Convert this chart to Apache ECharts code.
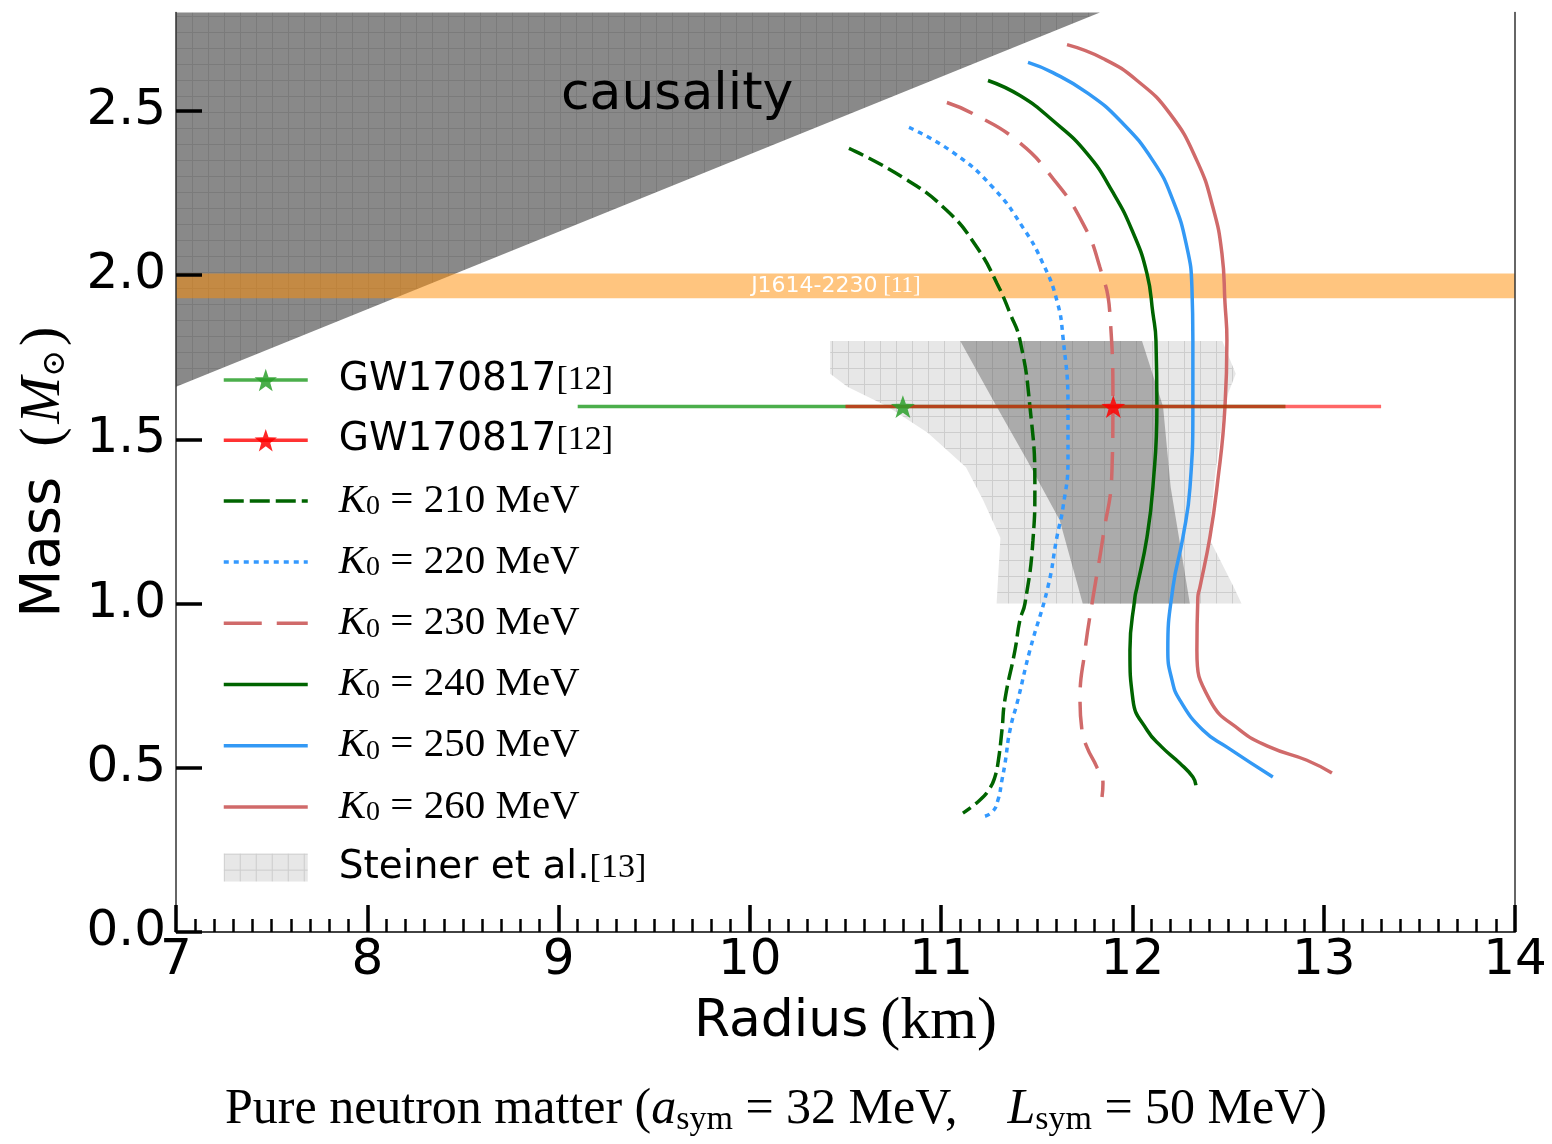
<!DOCTYPE html>
<html>
<head>
<meta charset="utf-8">
<script src="https://cdn.jsdelivr.net/npm/echarts@6/dist/echarts.min.js"></script>
<style>
  html, body { margin: 0; padding: 0; background: #fff; }
  #chart { width: 1552px; height: 1144px; }
</style>
</head>
<body>
<div id="chart"></div>
<script>
// Mass–radius relations of pure neutron matter for several incompressibilities K0

const massTicks = [0, 0.5, 1.0, 1.5, 2.0, 2.5];

// causality limit (upper-left region)
const causality = [[7, 1.66], [7, 2.8], [11.83, 2.8]];

// PSR J1614-2230 mass band
const j1614Band = [1.93, 2.005];

// Steiner et al. constraints
const steinerOuter = [
  [10.42, 1.80], [12.47, 1.80], [12.54, 1.70], [12.50, 1.64], [12.47, 1.56],
  [12.43, 1.38], [12.40, 1.20], [12.53, 1.05], [12.57, 1.00], [11.29, 1.00],
  [11.31, 1.20], [11.22, 1.315], [11.13, 1.415], [10.93, 1.52], [10.72, 1.60],
  [10.51, 1.66], [10.42, 1.70]
];
const steinerInner = [
  [11.10, 1.80], [12.05, 1.80], [12.16, 1.60], [12.20, 1.354], [12.30, 1.00],
  [11.74, 1.00], [11.62, 1.254], [11.45, 1.436], [11.29, 1.60]
];

// GW170817 radius estimates at M = 1.6 (low, central, high)
const gwGreenRadius = [9.1, 10.8, 12.8];
const gwRedRadius = [10.5, 11.9, 13.3];
const gwMass = 1.6;

// M–R curves [radius km, mass Msun]
const k210 = [
  [10.518, 2.386], [10.800, 2.298], [11.030, 2.197], [11.187, 2.085], [11.292, 1.975],
  [11.360, 1.884], [11.412, 1.802], [11.464, 1.601], [11.490, 1.355], [11.480, 1.193],
  [11.438, 1.000], [11.412, 0.950], [11.386, 0.858], [11.333, 0.706], [11.318, 0.615],
  [11.297, 0.514], [11.281, 0.472], [11.255, 0.438], [11.203, 0.402], [11.114, 0.362]
];
const k220 = [
  [10.832, 2.450], [11.062, 2.374], [11.271, 2.267], [11.428, 2.145], [11.532, 2.036],
  [11.605, 1.923], [11.637, 1.811], [11.663, 1.598], [11.663, 1.436], [11.637, 1.293],
  [11.605, 1.202], [11.558, 1.050], [11.464, 0.858], [11.401, 0.706], [11.360, 0.615],
  [11.334, 0.514], [11.318, 0.463], [11.297, 0.402], [11.266, 0.365], [11.213, 0.350]
];
const k230 = [
  [11.030, 2.526], [11.166, 2.492], [11.396, 2.410], [11.584, 2.295], [11.741, 2.158],
  [11.830, 2.024], [11.882, 1.884], [11.898, 1.601], [11.893, 1.406], [11.846, 1.202],
  [11.794, 1.019], [11.752, 0.858], [11.726, 0.706], [11.736, 0.615], [11.762, 0.563],
  [11.814, 0.502], [11.846, 0.453], [11.841, 0.411]
];
const k240 = [
  [11.245, 2.593], [11.412, 2.547], [11.584, 2.471], [11.762, 2.371], [11.898, 2.252],
  [12.003, 2.130], [12.076, 2.005], [12.107, 1.884], [12.123, 1.802], [12.128, 1.601],
  [12.107, 1.354], [12.076, 1.202], [12.024, 1.050], [12.013, 1.019], [11.987, 0.858],
  [12.003, 0.706], [12.076, 0.615], [12.154, 0.563], [12.248, 0.514], [12.316, 0.472],
  [12.332, 0.447]
];
const k250 = [
  [11.454, 2.648], [11.584, 2.617], [11.762, 2.556], [11.935, 2.471], [12.107, 2.349],
  [12.212, 2.228], [12.285, 2.085], [12.311, 1.963], [12.316, 1.802], [12.316, 1.601],
  [12.301, 1.354], [12.264, 1.202], [12.212, 1.050], [12.185, 0.858], [12.207, 0.767],
  [12.248, 0.706], [12.368, 0.615], [12.494, 0.563], [12.734, 0.472]
];
const k260 = [
  [11.658, 2.702], [11.846, 2.660], [12.024, 2.593], [12.196, 2.492], [12.337, 2.349],
  [12.421, 2.206], [12.468, 2.066], [12.484, 1.914], [12.494, 1.802], [12.484, 1.601],
  [12.442, 1.354], [12.405, 1.202], [12.353, 1.050], [12.342, 1.019], [12.337, 0.858],
  [12.405, 0.706], [12.562, 0.615], [12.719, 0.563], [12.912, 0.523], [13.043, 0.484]
];

const R_MIN = 7, R_MAX = 14, M_MIN = 0, M_MAX = 2.8;

// "+"-hatched fills
function hatch(bg, line, step) {
  const c = document.createElement('canvas');
  c.width = step; c.height = step;
  const g = c.getContext('2d');
  g.fillStyle = bg; g.fillRect(0, 0, step, step);
  g.fillStyle = line;
  g.fillRect(0, 0, 1, step);
  g.fillRect(0, 0, step, 1);
  return { image: c, repeat: 'repeat' };
}
const causalFill = hatch('#898989', '#7b7b7b', 16);
const steinerFill = hatch('#e7e7e7', '#cdcdcd', 16);
const steinerCoreFill = hatch('#ababab', '#9b9b9b', 16);

const STAR = 'path://M0,-10L2.35,-3.24L9.51,-3.09L3.8,1.24L5.88,8.09L0,4L-5.88,8.09L-3.8,1.24L-9.51,-3.09L-2.35,-3.24Z';

function polygonSeries(name, points, fill, z) {
  return {
    type: 'custom', name, coordinateSystem: 'cartesian2d', silent: true, z,
    data: [points[0]],
    itemStyle: { color: fill },
    renderItem: (params, api) => ({
      type: 'polygon',
      shape: { points: points.map(p => api.coord(p)) },
      style: { fill: fill, stroke: null }
    })
  };
}

function gwSeries(name, radii, color, opacity) {
  return {
    type: 'line', name, z: 8,
    data: [
      { value: [radii[0], gwMass], symbol: 'none' },
      { value: [radii[1], gwMass] },
      { value: [radii[2], gwMass], symbol: 'none' }
    ],
    symbol: STAR, symbolSize: 24, symbolKeepAspect: true,
    lineStyle: { color, width: 3.5, opacity },
    itemStyle: { color, opacity: 0.85 },
    emphasis: { disabled: true }
  };
}

function curve(name, data, color, type) {
  return {
    type: 'line', name, data, smooth: 0.5, symbol: 'none', z: 6,
    lineStyle: { color, width: 3.5, type, cap: 'butt' },
    itemStyle: { color },
    emphasis: { disabled: true }
  };
}

const bandPoly = [[R_MIN, j1614Band[0]], [R_MAX, j1614Band[0]], [R_MAX, j1614Band[1]], [R_MIN, j1614Band[1]]];

const legendText = {
  GWg: '{g|GW170817}{r|[12]}',
  GWr: '{g|GW170817}{r|[12]}',
  K210: '{k|K}{s|0}{e| = 210 MeV}',
  K220: '{k|K}{s|0}{e| = 220 MeV}',
  K230: '{k|K}{s|0}{e| = 230 MeV}',
  K240: '{k|K}{s|0}{e| = 240 MeV}',
  K250: '{k|K}{s|0}{e| = 250 MeV}',
  K260: '{k|K}{s|0}{e| = 260 MeV}',
  Steiner: '{g|Steiner et al.}{r|[13]}'
};

const SERIF = '"Liberation Serif", "DejaVu Serif", serif';
const SANS = '"DejaVu Sans", sans-serif';

const curveLegend = (name, dash) => {
  const item = { name, itemStyle: { opacity: 0 } };
  if (dash) item.lineStyle = { type: dash };
  return item;
};

const option = {
  animation: false,
  backgroundColor: '#fff',
  title: {
    text: 'Pure neutron matter ({i|a}{s|sym} = 32 MeV,    {i|L}{s|sym} = 50 MeV)',
    left: 'center', top: 1078,
    textStyle: {
      fontFamily: SERIF, fontSize: 50, fontWeight: 'normal', color: '#000', lineHeight: 54,
      rich: {
        i: { fontFamily: SERIF, fontSize: 50, fontStyle: 'italic', color: '#000', lineHeight: 54 },
        s: { fontFamily: SERIF, fontSize: 34, color: '#000', verticalAlign: 'bottom', lineHeight: 18 }
      }
    }
  },
  grid: { left: 176, right: 37, top: 12.5, bottom: 212, show: false },
  legend: {
    orient: 'vertical', left: 222, top: 360, padding: 0,
    itemWidth: 84, itemHeight: 28, itemGap: 20.2,
    selectedMode: false,
    lineStyle: { width: 3.5 },
    data: ['GWg', { name: 'GWr', lineStyle: { opacity: 0.8 } },
           curveLegend('K210', [20, 6]), curveLegend('K220', [5, 5]), curveLegend('K230', [38, 15]),
           curveLegend('K240'), curveLegend('K250'), curveLegend('K260'),
           { name: 'Steiner', icon: 'rect', itemStyle: { color: steinerFill } }],
    formatter: name => legendText[name],
    textStyle: {
      color: '#000', fontSize: 39, lineHeight: 40, padding: [0, 0, 0, 26],
      rich: {
        g: { fontFamily: SANS, fontSize: 39, lineHeight: 40, color: '#000' },
        r: { fontFamily: SERIF, fontSize: 34, lineHeight: 40, color: '#000' },
        k: { fontFamily: SERIF, fontSize: 41, fontStyle: 'italic', lineHeight: 40, color: '#000' },
        s: { fontFamily: SERIF, fontSize: 28, lineHeight: 14, verticalAlign: 'bottom', color: '#000' },
        e: { fontFamily: SERIF, fontSize: 41, lineHeight: 40, color: '#000' }
      }
    }
  },
  xAxis: [{
    type: 'value', min: R_MIN, max: R_MAX, interval: 1,
    axisLine: { show: true, onZero: false, lineStyle: { color: '#444', width: 1.5 } },
    axisTick: { inside: true, length: 27, lineStyle: { color: '#000', width: 3.5 } },
    minorTick: { show: true, splitNumber: 10, length: 13, lineStyle: { color: '#000', width: 2.5 } },
    axisLabel: { fontFamily: SANS, fontSize: 50, color: '#000', margin: 4 },
    splitLine: { show: false },
    name: '{a|Radius}{b|(km)}', nameLocation: 'middle', nameGap: 60,
    nameTextStyle: {
      rich: {
        a: { fontFamily: SANS, fontSize: 52, color: '#000', lineHeight: 60 },
        b: { fontFamily: SERIF, fontSize: 60, color: '#000', lineHeight: 60, padding: [0, 0, 0, 12] }
      }
    },
    z: 10
  }, {
    type: 'value', position: 'top', min: R_MIN, max: R_MAX,
    axisLine: { show: true, lineStyle: { color: '#333', width: 1.5 } },
    axisTick: { show: false }, axisLabel: { show: false }, splitLine: { show: false },
    z: 10
  }],
  yAxis: [{
    type: 'value', min: M_MIN, max: M_MAX,
    axisLine: { show: true, onZero: false, lineStyle: { color: '#333', width: 1.5 } },
    axisTick: { inside: true, length: 26, customValues: massTicks, lineStyle: { color: '#000', width: 3.5 } },
    axisLabel: {
      fontFamily: SANS, fontSize: 50, color: '#000', margin: 10,
      customValues: massTicks, formatter: v => v.toFixed(1)
    },
    splitLine: { show: false },
    name: '{a|Mass}{p|(}{m|M}{o|⊙}{q|)}', nameLocation: 'middle', nameRotate: 90, nameGap: 104,
    nameTextStyle: {
      rich: {
        a: { fontFamily: SANS, fontSize: 56, color: '#000', lineHeight: 56 },
        p: { fontFamily: SERIF, fontSize: 58, color: '#000', lineHeight: 56, padding: [0, 4, 0, 30] },
        q: { fontFamily: SERIF, fontSize: 58, color: '#000', lineHeight: 56, padding: [0, 0, 0, 4] },
        m: { fontFamily: SERIF, fontSize: 56, fontStyle: 'italic', color: '#000', lineHeight: 56 },
        o: { fontFamily: '"DejaVu Serif", serif', fontSize: 32, color: '#000', verticalAlign: 'bottom', lineHeight: 22 }
      }
    },
    z: 10
  }, {
    type: 'value', position: 'right', min: M_MIN, max: M_MAX,
    axisLine: { show: true, lineStyle: { color: '#333', width: 1.5 } },
    axisTick: { show: false }, axisLabel: { show: false }, splitLine: { show: false },
    z: 10
  }],
  series: [
    polygonSeries('causality', causality, causalFill, 1),
    polygonSeries('J1614', bandPoly, 'rgba(255,140,0,0.5)', 2),
    polygonSeries('Steiner', steinerOuter, steinerFill, 3),
    polygonSeries('SteinerCore', steinerInner, steinerCoreFill, 3),
    curve('K210', k210, '#006400', [16, 6]),
    curve('K220', k220, '#3399ff', [5, 5]),
    curve('K230', k230, '#d06a6a', [28, 14]),
    curve('K240', k240, '#006400', 'solid'),
    curve('K250', k250, '#3399f5', 'solid'),
    curve('K260', k260, '#d06a6a', 'solid'),
    gwSeries('GWg', gwGreenRadius, '#2ca02c', 0.85),
    gwSeries('GWr', gwRedRadius, '#ff0000', 0.6)
  ]
};

const chart = echarts.init(document.getElementById('chart'), null, { renderer: 'canvas' });
chart.setOption(option);

// text annotations placed in data coordinates
const causalityPos = chart.convertToPixel({ gridIndex: 0 }, [9.62, 2.547]);
const bandPos = chart.convertToPixel({ gridIndex: 0 }, [10.45, (j1614Band[0] + j1614Band[1]) / 2]);
chart.setOption({
  graphic: [
    {
      type: 'text', x: causalityPos[0], y: causalityPos[1], z: 20, silent: true,
      style: { text: 'causality', font: '52px "DejaVu Sans"', fill: '#000', align: 'center', verticalAlign: 'middle' }
    },
    {
      type: 'text', x: bandPos[0], y: bandPos[1], z: 20, silent: true,
      style: {
        text: '{a|J1614-2230}{b| [11]}', align: 'center', verticalAlign: 'middle',
        rich: {
          a: { fontFamily: SANS, fontSize: 22, fill: '#fff' },
          b: { fontFamily: SERIF, fontSize: 23, fill: '#fff' }
        }
      }
    }
  ]
});
</script>
</body>
</html>
